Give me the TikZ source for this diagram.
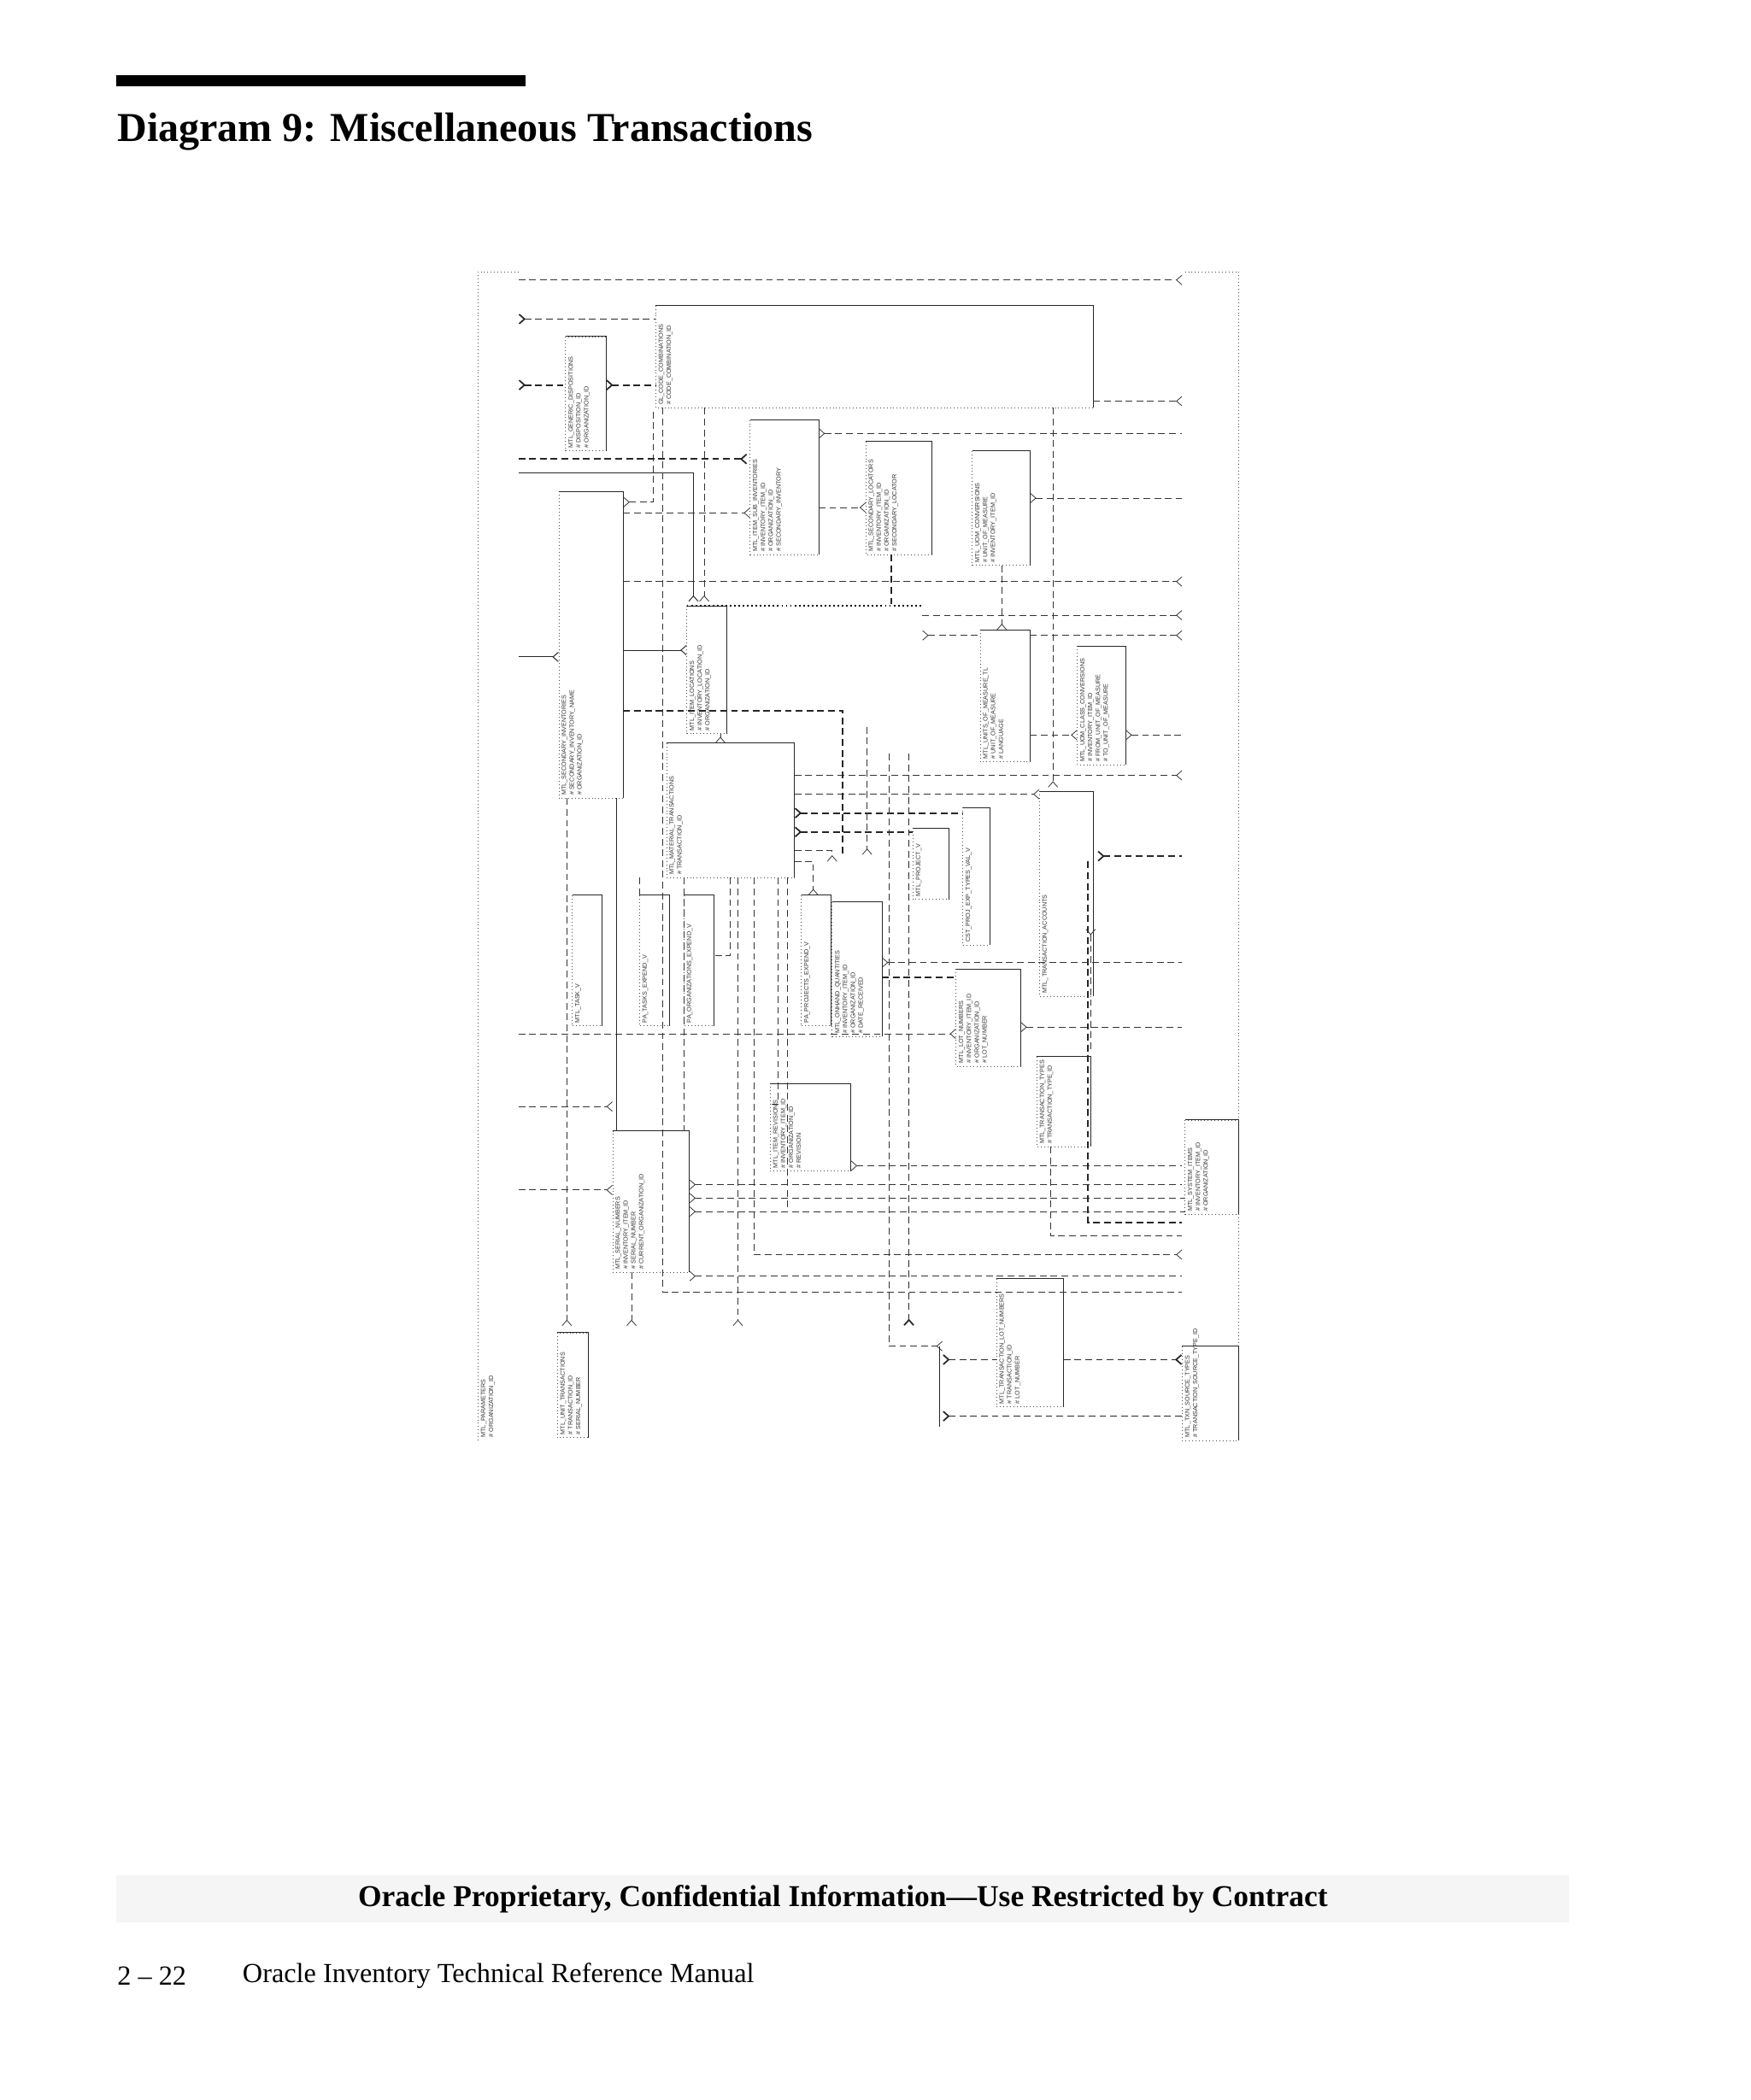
\documentclass[tikz,border=0pt]{standalone}
\usepackage{fontspec}
\setmainfont{Liberation Serif}
\newfontfamily\lab{Liberation Sans}
\usetikzlibrary{arrows.meta}
\tikzset{
  rl/.style={dash pattern=on 5pt off 3pt, line width=0.5pt, draw=black!80},
  trl/.style={dash pattern=on 5pt off 3pt, line width=1.1pt, draw=black!85},
  sl/.style={line width=0.6pt, draw=black!85},
  cf/.style={-{Straight Barb[reversed,length=4pt,width=7pt]}},
  cfs/.style={{Straight Barb[reversed,length=4pt,width=7pt]}-},
  ebox/.style={dotted, line width=0.5pt, draw=black!70},
  etext/.style={rotate=90, anchor=north west, inner sep=1pt, font=\lab\fontsize{4.6}{5.8}\selectfont, align=left, text=black!80}
}
\newcommand{\ent}[6]{%
  \draw[ebox] (#2,#3) rectangle (#4,#5);
  \draw[sl] (#2,#3) -- (#4,#3) -- (#4,#5);
  \node[etext] (#1) at (#2+1,#5-1) {#6};
}
\begin{document}
\begin{tikzpicture}[x=1pt,y=-1pt]
\useasboundingbox (0,0) rectangle (1300,1560);
% header
\fill (86,56) rectangle (390,64);
\node[anchor=west, inner sep=0pt, font=\bfseries\fontsize{30.5}{34}\selectfont] (title) at (87,98) {Diagram 9: Miscellaneous Transactions};
% footer
\fill[black!4] (86,1393) rectangle (1165,1428);
\node[font=\bfseries\fontsize{22.5}{26}\selectfont] (conf) at (626,1411) {Oracle Proprietary, Confidential Information––Use Restricted by Contract};
\node[anchor=west, inner sep=0pt, font=\fontsize{20.5}{24}\selectfont] (pg) at (87,1468) {2 – 22};
\node[anchor=west, inner sep=0pt, font=\fontsize{20.5}{24}\selectfont] (man) at (180,1468) {Oracle Inventory Technical Reference Manual};
% frames
\draw[ebox] (385,202) -- (355,202) -- (355,1070);
\draw[ebox] (880,202) -- (920,202) -- (920,900);
\draw[ebox] (900,902) -- (920,902) -- (920,1070);
% entities
\ent{gl}{487}{227}{812}{303}{GL\_CODE\_COMBINATIONS\\\# CODE\_COMBINATION\_ID}
\ent{gen}{420}{250}{450}{335}{MTL\_GENERIC\_DISPOSITIONS\\\# DISPOSITION\_ID\\\# ORGANIZATION\_ID}
\ent{isi}{557}{312}{608}{412}{MTL\_ITEM\_SUB\_INVENTORIES\\\# INVENTORY\_ITEM\_ID\\\# ORGANIZATION\_ID\\\# SECONDARY\_INVENTORY}
\ent{sloc}{643}{328}{692}{412}{MTL\_SECONDARY\_LOCATORS\\\# INVENTORY\_ITEM\_ID\\\# ORGANIZATION\_ID\\\# SECONDARY\_LOCATOR}
\ent{uomc}{722}{335}{765}{420}{MTL\_UOM\_CONVERSIONS\\\# UNIT\_OF\_MEASURE\\\# INVENTORY\_ITEM\_ID}
\ent{sinv}{415}{365}{463}{593}{MTL\_SECONDARY\_INVENTORIES\\\# SECONDARY\_INVENTORY\_NAME\\\# ORGANIZATION\_ID}
\ent{iloc}{510}{450}{540}{545}{MTL\_ITEM\_LOCATIONS\\\# INVENTORY\_LOCATION\_ID\\\# ORGANIZATION\_ID}
\ent{uomtl}{728}{468}{765}{566}{MTL\_UNITS\_OF\_MEASURE\_TL\\\# UNIT\_OF\_MEASURE\\\# LANGUAGE}
\ent{ucc}{800}{480}{836}{568}{MTL\_UOM\_CLASS\_CONVERSIONS\\\# INVENTORY\_ITEM\_ID\\\# FROM\_UNIT\_OF\_MEASURE\\\# TO\_UNIT\_OF\_MEASURE}
\ent{mmt}{495}{552}{590}{652}{MTL\_MATERIAL\_TRANSACTIONS\\\# TRANSACTION\_ID}
\ent{ta}{772}{588}{812}{740}{MTL\_TRANSACTION\_ACCOUNTS}
\ent{cstv}{715}{600}{735}{702}{CST\_PROJ\_EXP\_TYPES\_VAL\_V}
\ent{prj}{678}{615}{705}{668}{MTL\_PROJECT\_V}
\ent{task}{425}{665}{447}{762}{MTL\_TASK\_V}
\ent{pte}{475}{665}{497}{762}{PA\_TASKS\_EXPEND\_V}
\ent{poe}{508}{665}{530}{762}{PA\_ORGANIZATIONS\_EXPEND\_V}
\ent{ppe}{595}{665}{617}{762}{PA\_PROJECTS\_EXPEND\_V}
\ent{ohq}{618}{670}{655}{770}{MTL\_ONHAND\_QUANTITIES\\\# INVENTORY\_ITEM\_ID\\\# ORGANIZATION\_ID\\\# DATE\_RECEIVED}
\ent{lot}{710}{720}{758}{792}{MTL\_LOT\_NUMBERS\\\# INVENTORY\_ITEM\_ID\\\# ORGANIZATION\_ID\\\# LOT\_NUMBER}
\ent{tt}{770}{785}{810}{852}{MTL\_TRANSACTION\_TYPES\\\# TRANSACTION\_TYPE\_ID}
\ent{rev}{572}{805}{632}{870}{MTL\_ITEM\_REVISIONS\\\# INVENTORY\_ITEM\_ID\\\# ORGANIZATION\_ID\\\# REVISION}
\ent{ser}{455}{840}{512}{945}{MTL\_SERIAL\_NUMBERS\\\# INVENTORY\_ITEM\_ID\\\# SERIAL\_NUMBER\\\# CURRENT\_ORGANIZATION\_ID}
\ent{msi}{880}{832}{920}{902}{MTL\_SYSTEM\_ITEMS\\\# INVENTORY\_ITEM\_ID\\\# ORGANIZATION\_ID}
\node[etext] (par) at (356,1069) {MTL\_PARAMETERS\\\# ORGANIZATION\_ID};
\ent{ut}{414}{990}{437}{1068}{MTL\_UNIT\_TRANSACTIONS\\\# TRANSACTION\_ID\\\# SERIAL\_NUMBER}
\ent{tln}{740}{950}{790}{1045}{MTL\_TRANSACTION\_LOT\_NUMBERS\\\# TRANSACTION\_ID\\\# LOT\_NUMBER}
\ent{tst}{878}{1000}{920}{1070}{MTL\_TXN\_SOURCE\_TYPES\\\# TRANSACTION\_SOURCE\_TYPE\_ID}
% thick top line of item locations
\draw[dotted, line width=1.2pt] (510,450) -- (685,450);
% relationships, top area
\draw[rl,cf] (385,208) -- (878,208);
\draw[trl,cfs] (385,237) -- (487,237);
\draw[trl,cfs] (385,286) -- (420,286);
\draw[trl,cfs] (450,286) -- (487,286);
\draw[rl,cf] (812,298) -- (878,298);
\draw[rl,cfs] (608,322) -- (878,322);
\draw[trl,cf] (385,341) -- (555,341);
\draw[sl,cf] (385,351) -- (515,351) -- (515,447);
\draw[rl,cf] (523,303) -- (523,447);
\draw[rl,cfs] (463,373) -- (485,373) -- (485,303);
\draw[rl] (492,303) -- (492,960) -- (878,960);
\draw[rl,cf] (463,381) -- (557,381);
\draw[rl,cf] (608,377) -- (643,377);
\draw[rl,cfs] (765,370) -- (878,370);
\draw[trl] (662,412) -- (662,450);
\draw[rl,cf] (463,432) -- (878,432);
\draw[rl,cf] (685,457) -- (878,457);
\draw[rl,cf] (744,420) -- (744,468);
\draw[rl,cfs] (685,472) -- (728,472);
\draw[rl,cf] (765,472) -- (878,472);
\draw[rl,cf] (782,303) -- (782,585);
\draw[sl,cf] (385,488) -- (415,488);
\draw[sl,cf] (463,483) -- (510,483);
\draw[rl,cf] (765,546) -- (800,546);
\draw[rl,cfs] (836,546) -- (878,546);
\draw[rl,cf] (590,576) -- (878,576);
\draw[rl,cf] (590,590) -- (772,590);
\draw[trl,cfs] (815,636) -- (878,636);
\draw[trl,cfs] (590,604) -- (715,604);
\draw[trl,cfs] (590,618) -- (678,618);
\draw[rl,cf] (535,545) -- (535,552);
\draw[trl] (463,528) -- (626,528) -- (626,635);
\draw[rl,cf] (644,540) -- (644,635);
\draw[rl,cf] (590,632) -- (618,632) -- (618,640);
\draw[rl,cf] (590,640) -- (604,640) -- (604,665);
\draw[rl,cf] (660,560) -- (660,1000) -- (700,1000);
\draw[trl,cf] (675,560) -- (675,985);
\draw[rl,cfs] (655,715) -- (878,715);
\draw[trl] (655,726) -- (710,726);
\draw[rl,cf] (385,768) -- (710,768);
\draw[rl,cfs] (758,763) -- (878,763);
\draw[rl,cfs] (810,690) -- (810,780) ;
\draw[rl,cf] (385,822) -- (455,822);
\draw[rl,cfs] (632,866) -- (878,866);
\draw[rl,cf] (385,884) -- (455,884);
\draw[trl] (808,640) -- (808,908) -- (878,908);
\draw[rl] (780,852) -- (780,918) -- (878,918);
\draw[rl,cf] (560,652) -- (560,932) -- (878,932);
\draw[rl,cfs] (512,880) -- (878,880);
\draw[rl,cfs] (512,890) -- (880,890);
\draw[rl,cfs] (512,900) -- (880,900);
\draw[rl,cfs] (512,948) -- (878,948);
\draw[rl] (542,652) -- (542,710) -- (530,710);
\draw[rl] (578,652) -- (578,820) -- (572,820);
\draw[rl] (585,652) -- (585,900);
\draw[rl] (508,652) -- (508,840);
% lines down to bottom entities
\draw[rl,cf] (421,593) -- (421,985);
\draw[sl] (458,593) -- (458,840);
\draw[rl,cf] (469,945) -- (469,985);
\draw[rl,cf] (548,652) -- (548,985);
\draw[rl] (475,652) -- (475,665);
% bottom right
\draw[trl,cfs] (700,1010) -- (740,1010);
\draw[trl,cf] (790,1010) -- (878,1010);
\draw[trl,cfs] (700,1052) -- (878,1052);
\draw[sl] (698,1000) -- (698,1060);
\end{tikzpicture}
\end{document}
